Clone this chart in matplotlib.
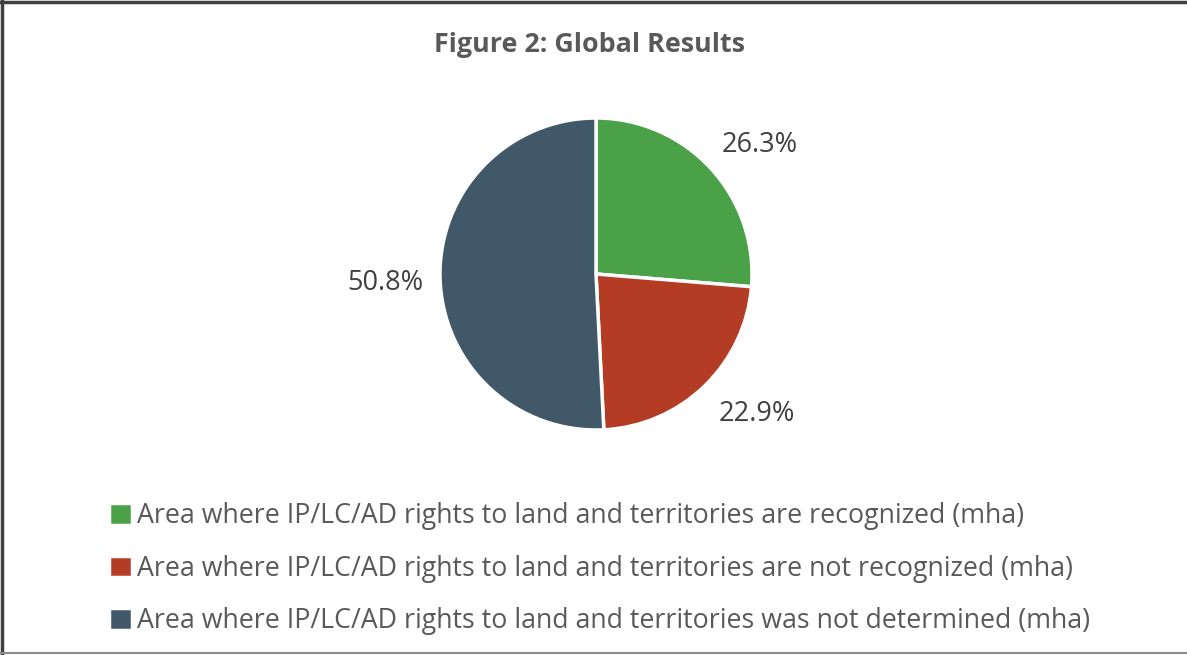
import matplotlib.pyplot as plt
from matplotlib.lines import Line2D

plt.rcParams['font.family'] = ['Open Sans', 'DejaVu Sans']

title = "Figure 2: Global Results"
categories = [
    "Area where IP/LC/AD rights to land and territories are recognized (mha)",
    "Area where IP/LC/AD rights to land and territories are not recognized (mha)",
    "Area where IP/LC/AD rights to land and territories was not determined (mha)",
]
shares = [26.3, 22.9, 50.8]
colors = ["#4AA148", "#B43C25", "#405868"]
# "best fit" label spots, in units of the pie radius
label_pos = [(1.05, 0.83), (1.03, -0.90), (-1.35, -0.06)]


def main():
    fig = plt.figure(figsize=(11.87, 6.55), dpi=100)

    # pie axes: centre ~ (596, 274) px, radius ~155 px
    W, H = 1187, 655
    r = 156
    ax = fig.add_axes([(596 - r) / W, (H - 274 - r) / H, 2 * r / W, 2 * r / H])
    wedges, _, autotexts = ax.pie(
        shares, colors=colors, startangle=90, counterclock=False,
        autopct='%.1f%%', pctdistance=1.37, radius=1,
        wedgeprops=dict(edgecolor='white', linewidth=2.5),
        textprops=dict(fontsize=19.5, color='#404040'),
    )
    for t, p in zip(autotexts, label_pos):
        t.set_position(p)
    ax.set_xlim(-1, 1)
    ax.set_ylim(-1, 1)
    ax.set_aspect('equal')

    fig.text(590 / W, 1 - 45 / H, title, ha='center', va='center',
             fontsize=19.4, fontweight='bold', color='#595959')

    fig.legend(wedges, categories, loc='upper left',
               bbox_to_anchor=(85 / W, 1 - 478 / H), frameon=False,
               fontsize=19.3, labelcolor='#595959', handlelength=0.85,
               handleheight=0.85, handletextpad=0.2, labelspacing=0.92)

    # outer frame
    fig.add_artist(Line2D([0.002, 0.002], [0, 1], transform=fig.transFigure,
                          color='#404040', linewidth=2.5))
    fig.add_artist(Line2D([0, 1], [0.997, 0.997], transform=fig.transFigure,
                          color='#404040', linewidth=2.5))
    fig.add_artist(Line2D([0, 1], [0.003, 0.003], transform=fig.transFigure,
                          color='#8c8c8c', linewidth=1.5))

    fig.savefig('out.png', dpi=100, facecolor='white')


if __name__ == "__main__":
    main()
